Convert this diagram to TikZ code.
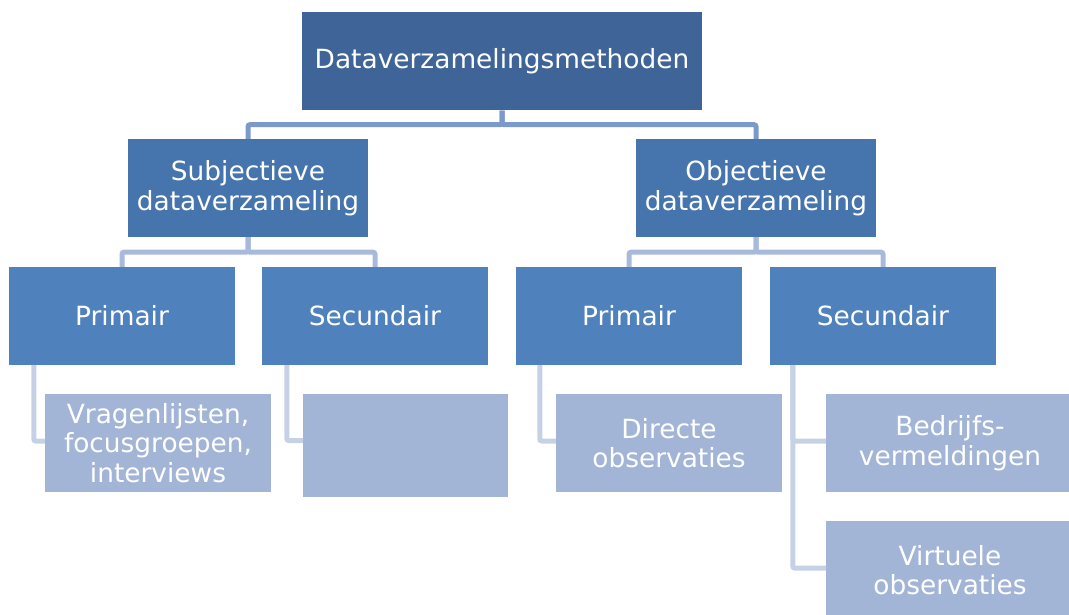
\documentclass[tikz,border=0pt]{standalone}
\usepackage{fontspec}
\setmainfont{DejaVu Sans}
\definecolor{boxa}{HTML}{3F6598}
\definecolor{boxb}{HTML}{4674AC}
\definecolor{boxc}{HTML}{4F81BD}
\definecolor{boxd}{HTML}{A2B5D6}
\definecolor{linka}{HTML}{7B9ACB}
\definecolor{linkb}{HTML}{A7BADB}
\definecolor{linkc}{HTML}{C6D1E6}
\begin{document}
\begin{tikzpicture}[x=1pt,y=-1pt,
  every node/.style={font=\fontsize{26.4}{29.5}\selectfont, text=white, align=center, inner sep=0pt},
  blok/.style={rectangle, minimum height=98pt, minimum width=226pt},
  linkline/.style={line width=5pt, rounded corners=2pt}]
  \useasboundingbox (0,0) rectangle (1069,615);

  \node[blok, fill=boxa, minimum width=400pt] (top) at (502,61.5) {Dataverzamelingsmethoden};

  \node[blok, fill=boxb, minimum width=240pt] (subj) at (248,188) {Subjectieve\\dataverzameling};
  \node[blok, fill=boxb, minimum width=240pt] (obj) at (756,188) {Objectieve\\dataverzameling};

  \node[blok, fill=boxc] (prim1) at (122,316) {Primair};
  \node[blok, fill=boxc] (sec1) at (375,316) {Secundair};
  \node[blok, fill=boxc] (prim2) at (629,316) {Primair};
  \node[blok, fill=boxc] (sec2) at (883,316) {Secundair};

  \node[blok, fill=boxd] (vragen) at (158,443) {Vragenlijsten,\\focusgroepen,\\interviews};
  \node[blok, fill=boxd, minimum width=205pt, minimum height=103pt] (leeg) at (405.5,445.5) {};
  \node[blok, fill=boxd] (direct) at (669,443) {Directe\\observaties};
  \node[blok, fill=boxd, minimum width=248pt] (bedrijf) at (950,443) {Bedrijfs-\\vermeldingen};
  \node[blok, fill=boxd, minimum width=248pt] (virtueel) at (950,570) {Virtuele\\observaties};

  \draw[linkline, linka] (top.south) -- ++(0,14) -| (subj.north);
  \draw[linkline, linka] (top.south) -- ++(0,14) -| (obj.north);

  \draw[linkline, linkb] (subj.south) -- ++(0,15) -| (prim1.north);
  \draw[linkline, linkb] (subj.south) -- ++(0,15) -| (sec1.north);
  \draw[linkline, linkb] (obj.south) -- ++(0,15) -| (prim2.north);
  \draw[linkline, linkb] (obj.south) -- ++(0,15) -| (sec2.north);

  \draw[linkline, linkc] ([xshift=25pt]prim1.south west) |- ([yshift=2pt]vragen.west);
  \draw[linkline, linkc] ([xshift=25pt]sec1.south west) |- ([yshift=2.5pt]leeg.south west |- vragen.west);
  \draw[linkline, linkc] ([xshift=24pt]prim2.south west) |- ([yshift=2pt]direct.west);
  \draw[linkline, linkc] ([xshift=23pt]sec2.south west) |- ([yshift=2pt]bedrijf.west);
  \draw[linkline, linkc] ([xshift=23pt]sec2.south west) |- ([yshift=2pt]virtueel.west);
\end{tikzpicture}
\end{document}
